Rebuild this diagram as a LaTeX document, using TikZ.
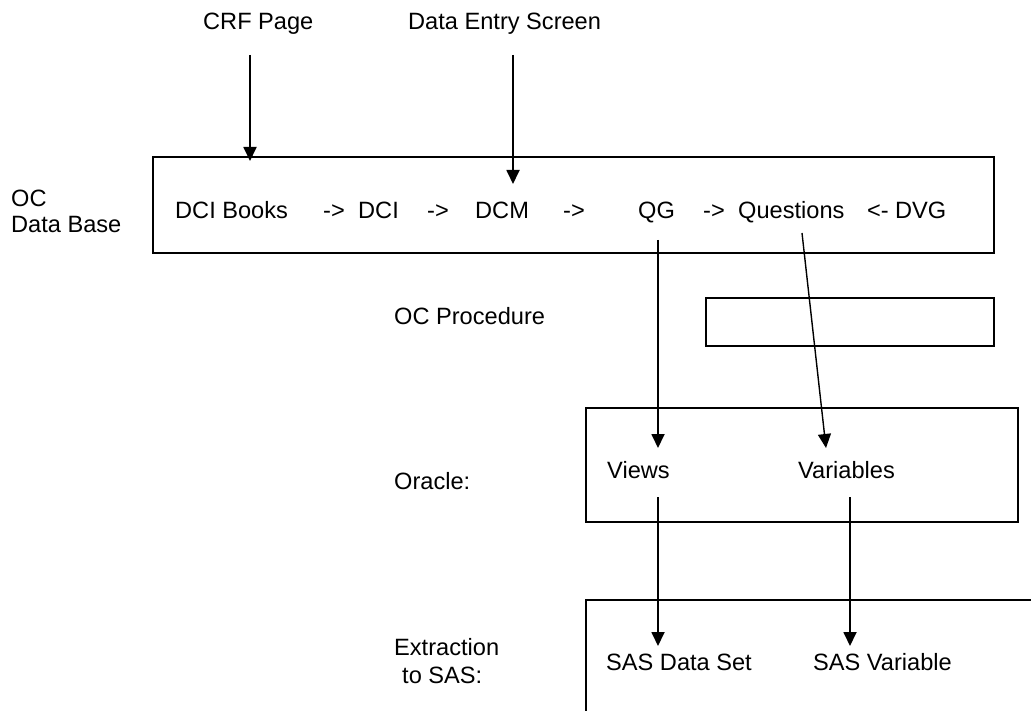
\documentclass[tikz,border=0pt]{standalone}
\usepackage{fontspec}
\setmainfont{Liberation Sans}
\usetikzlibrary{arrows.meta}
\begin{document}
\begin{tikzpicture}[x=1pt,y=-1pt,
  lab/.style={anchor=base west, inner sep=0pt, font=\fontsize{23.6}{28}\selectfont},
  box/.style={draw, line width=1.8pt},
  arr/.style={line width=1.8pt, -{Triangle[length=14pt,width=13pt]}},
  slant/.style={line width=1.4pt, -{Triangle[length=14pt,width=13pt]}}]
\useasboundingbox (0,0) rectangle (1031,711);
% boxes
\draw[box] (153,157) rectangle (994,253);
\draw[box] (706,298) rectangle (994,346);
\draw[box] (586,408) rectangle (1018,522);
\draw[box] (586,712) -- (586,600) -- (1032,600);
% top labels
\node[lab] (crf) at (203,30) {CRF Page};
\node[lab] (des) at (408,30) {Data Entry Screen};
% left labels
\node[lab] (oc1) at (11,207) {OC};
\node[lab] (oc2) at (11,233) {Data Base};
\node[lab] (ocp) at (394,325) {OC Procedure};
\node[lab] (ora) at (394,489) {Oracle:};
\node[lab] (ex1) at (394,655) {Extraction};
\node[lab] (ex2) at (402,683) {to SAS:};
% main row
\node[lab] (books) at (175,219) {DCI Books};
\node[lab] (a1) at (323,219) {->};
\node[lab] (dci) at (358,219) {DCI};
\node[lab] (a2) at (427,219) {->};
\node[lab] (dcm) at (475,219) {DCM};
\node[lab] (a3) at (563,219) {->};
\node[lab] (qg) at (638,219) {QG};
\node[lab] (a4) at (703,219) {->};
\node[lab] (qst) at (738,219) {Questions};
\node[lab] (a5) at (867,219) {<-};
\node[lab] (dvg) at (895,219) {DVG};
% oracle row
\node[lab] (views) at (607,478) {Views};
\node[lab] (vars) at (798,478) {Variables};
% sas row
\node[lab] (sasds) at (606,670) {SAS Data Set};
\node[lab] (sasvar) at (813,670) {SAS Variable};
% connector endpoints
\coordinate (crfS) at (250,55);
\coordinate (crfT) at (250,161);
\coordinate (desS) at (513,55);
\coordinate (desT) at (513,184);
\coordinate (qgS) at (658,240);
\coordinate (viewsT) at (658,448);
\coordinate (qstS) at (802,233);
\coordinate (varsT) at (826,448);
\coordinate (viewsS) at (658,497);
\coordinate (sasdsT) at (658,646);
\coordinate (varsS) at (850,497);
\coordinate (sasvarT) at (850,646);
% connectors
\draw[arr] (crfS) -- (crfT);
\draw[arr] (desS) -- (desT);
\draw[arr] (qgS) -- (viewsT);
\draw[slant] (qstS) -- (varsT);
\draw[arr] (viewsS) -- (sasdsT);
\draw[arr] (varsS) -- (sasvarT);
\end{tikzpicture}
\end{document}
